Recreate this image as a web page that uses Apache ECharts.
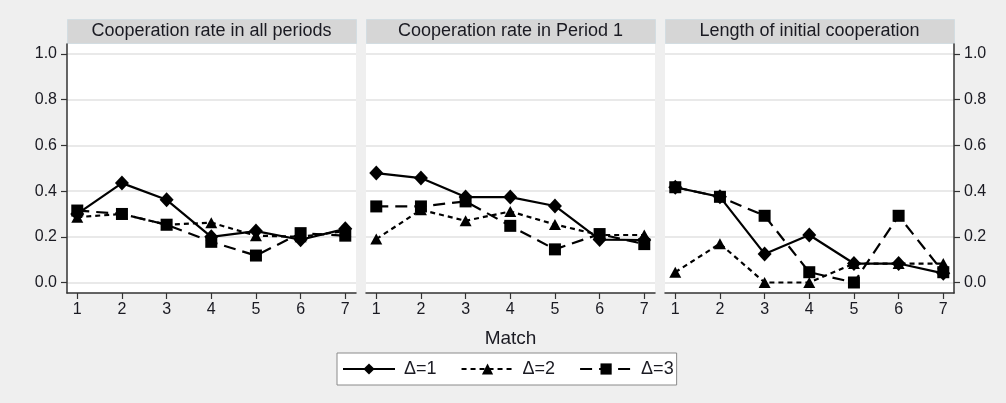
<!DOCTYPE html>
<html>
<head>
<meta charset="UTF-8">
<title>Cooperation by match</title>
<script src="https://cdn.jsdelivr.net/npm/echarts@6/dist/echarts.min.js"></script>
<style>
  html, body { margin: 0; padding: 0; background: #efefef; }
  #main { width: 1006px; height: 403px; }
</style>
</head>
<body>
<div id="main"></div>
<script>
// x categories (match number) and y tick labels
var matches = [1, 2, 3, 4, 5, 6, 7];
var yTicks = [0, 0.2, 0.4, 0.6, 0.8, 1.0];
var panelTitles = ['Cooperation rate in all periods', 'Cooperation rate in Period 1', 'Length of initial cooperation'];
var deltaNames = ['Δ=1', 'Δ=2', 'Δ=3'];

// panel 1: cooperation rate in all periods
var allD1 = [0.30, 0.435, 0.362, 0.20, 0.225, 0.187, 0.235];
var allD2 = [0.286, 0.30, 0.253, 0.262, 0.205, 0.20, 0.225];
var allD3 = [0.315, 0.30, 0.253, 0.178, 0.118, 0.216, 0.205];

// panel 2: cooperation rate in period 1
var p1D1 = [0.479, 0.457, 0.374, 0.374, 0.335, 0.188, 0.186];
var p1D2 = [0.19, 0.318, 0.27, 0.311, 0.254, 0.208, 0.208];
var p1D3 = [0.333, 0.333, 0.355, 0.248, 0.145, 0.212, 0.168];

// panel 3: length of initial cooperation
var lenD1 = [0.417, 0.375, 0.125, 0.208, 0.083, 0.083, 0.04];
var lenD2 = [0.045, 0.17, 0, 0, 0.083, 0.083, 0.083];
var lenD3 = [0.417, 0.375, 0.292, 0.045, 0, 0.292, 0.045];

var panelData = [
  [allD1, allD2, allD3],
  [p1D1, p1D2, p1D3],
  [lenD1, lenD2, lenD3]
];

var FONT = 'Liberation Sans';
var INK = '#1a1a22';
var panelLeft = [67, 366, 665];
var panelW = 289;
var plotTop = 44, plotH = 249;

var symbols = ['diamond', 'triangle', 'rect'];
var symbolSizes = [[14, 15], [12, 11], [12, 12]];
var dashes = ['solid', [5, 4], [12, 7]];

var grids = [], xAxes = [], yAxes = [], series = [], graphics = [];

for (var i = 0; i < 3; i++) {
  grids.push({
    left: panelLeft[i], top: plotTop, width: panelW, height: plotH,
    show: true, backgroundColor: '#fff', borderWidth: 0
  });
  xAxes.push({
    gridIndex: i, type: 'value', min: 0.77, max: 7.24,
    name: i == 1 ? 'Match' : '',
    nameLocation: 'middle', nameGap: 36,
    nameTextStyle: { fontFamily: FONT, fontSize: 19, color: INK },
    axisLine: { show: true, onZero: false, lineStyle: { color: '#333', width: 1.5 } },
    axisTick: { show: true, length: 6, customValues: matches, lineStyle: { color: '#333', width: 1.2 } },
    axisLabel: { customValues: matches, fontFamily: FONT, fontSize: 16, color: INK, margin: 9 },
    splitLine: { show: false }
  });
  var showY = i != 1;
  yAxes.push({
    gridIndex: i, type: 'value', min: -0.046, max: 1.044,
    position: i == 2 ? 'right' : 'left',
    axisLine: { show: showY, onZero: false, lineStyle: { color: '#333', width: 1.5 } },
    axisTick: { show: showY, length: 6, customValues: yTicks, lineStyle: { color: '#333', width: 1.2 } },
    axisLabel: {
      show: showY, customValues: yTicks, fontFamily: FONT, fontSize: 16, color: INK, margin: 10,
      formatter: function (v) { return v.toFixed(1); }
    },
    splitLine: { show: true, lineStyle: { color: '#e9e9e9', width: 2 } }
  });
  for (var d = 0; d < 3; d++) {
    var arr = panelData[i][d];
    series.push({
      name: deltaNames[d],
      type: 'line',
      xAxisIndex: i, yAxisIndex: i,
      data: matches.map(function (m, k) { return [m, arr[k]]; }),
      symbol: symbols[d],
      symbolSize: symbolSizes[d],
      itemStyle: { color: '#000' },
      lineStyle: { color: '#000', width: 2.2, type: dashes[d] },
      z: 3 - d
    });
  }
  // grey title strip above each panel
  graphics.push({
    type: 'rect', left: panelLeft[i], top: 19,
    shape: { width: panelW, height: 24 },
    style: { fill: '#d6d6d6', stroke: '#d3dde2', lineWidth: 1 }
  });
  graphics.push({
    type: 'text', x: panelLeft[i] + panelW / 2, y: 31,
    style: {
      text: panelTitles[i], fill: INK, font: '18px ' + FONT,
      textAlign: 'center', textVerticalAlign: 'middle'
    }
  });
}

var myChart = echarts.init(document.getElementById('main'));
var option = {
  backgroundColor: '#efefef',
  animation: false,
  grid: grids,
  xAxis: xAxes,
  yAxis: yAxes,
  graphic: graphics,
  legend: {
    data: deltaNames,
    left: 337, top: 353,
    padding: [7, 3, 7, 5],
    itemWidth: 52, itemHeight: 14, itemGap: 24,
    backgroundColor: '#fff', borderColor: '#8a8a8a', borderWidth: 1,
    textStyle: { fontFamily: FONT, fontSize: 18, color: INK, padding: [0, 0, 0, 4] }
  },
  series: series
};
myChart.setOption(option);
</script>
</body>
</html>
